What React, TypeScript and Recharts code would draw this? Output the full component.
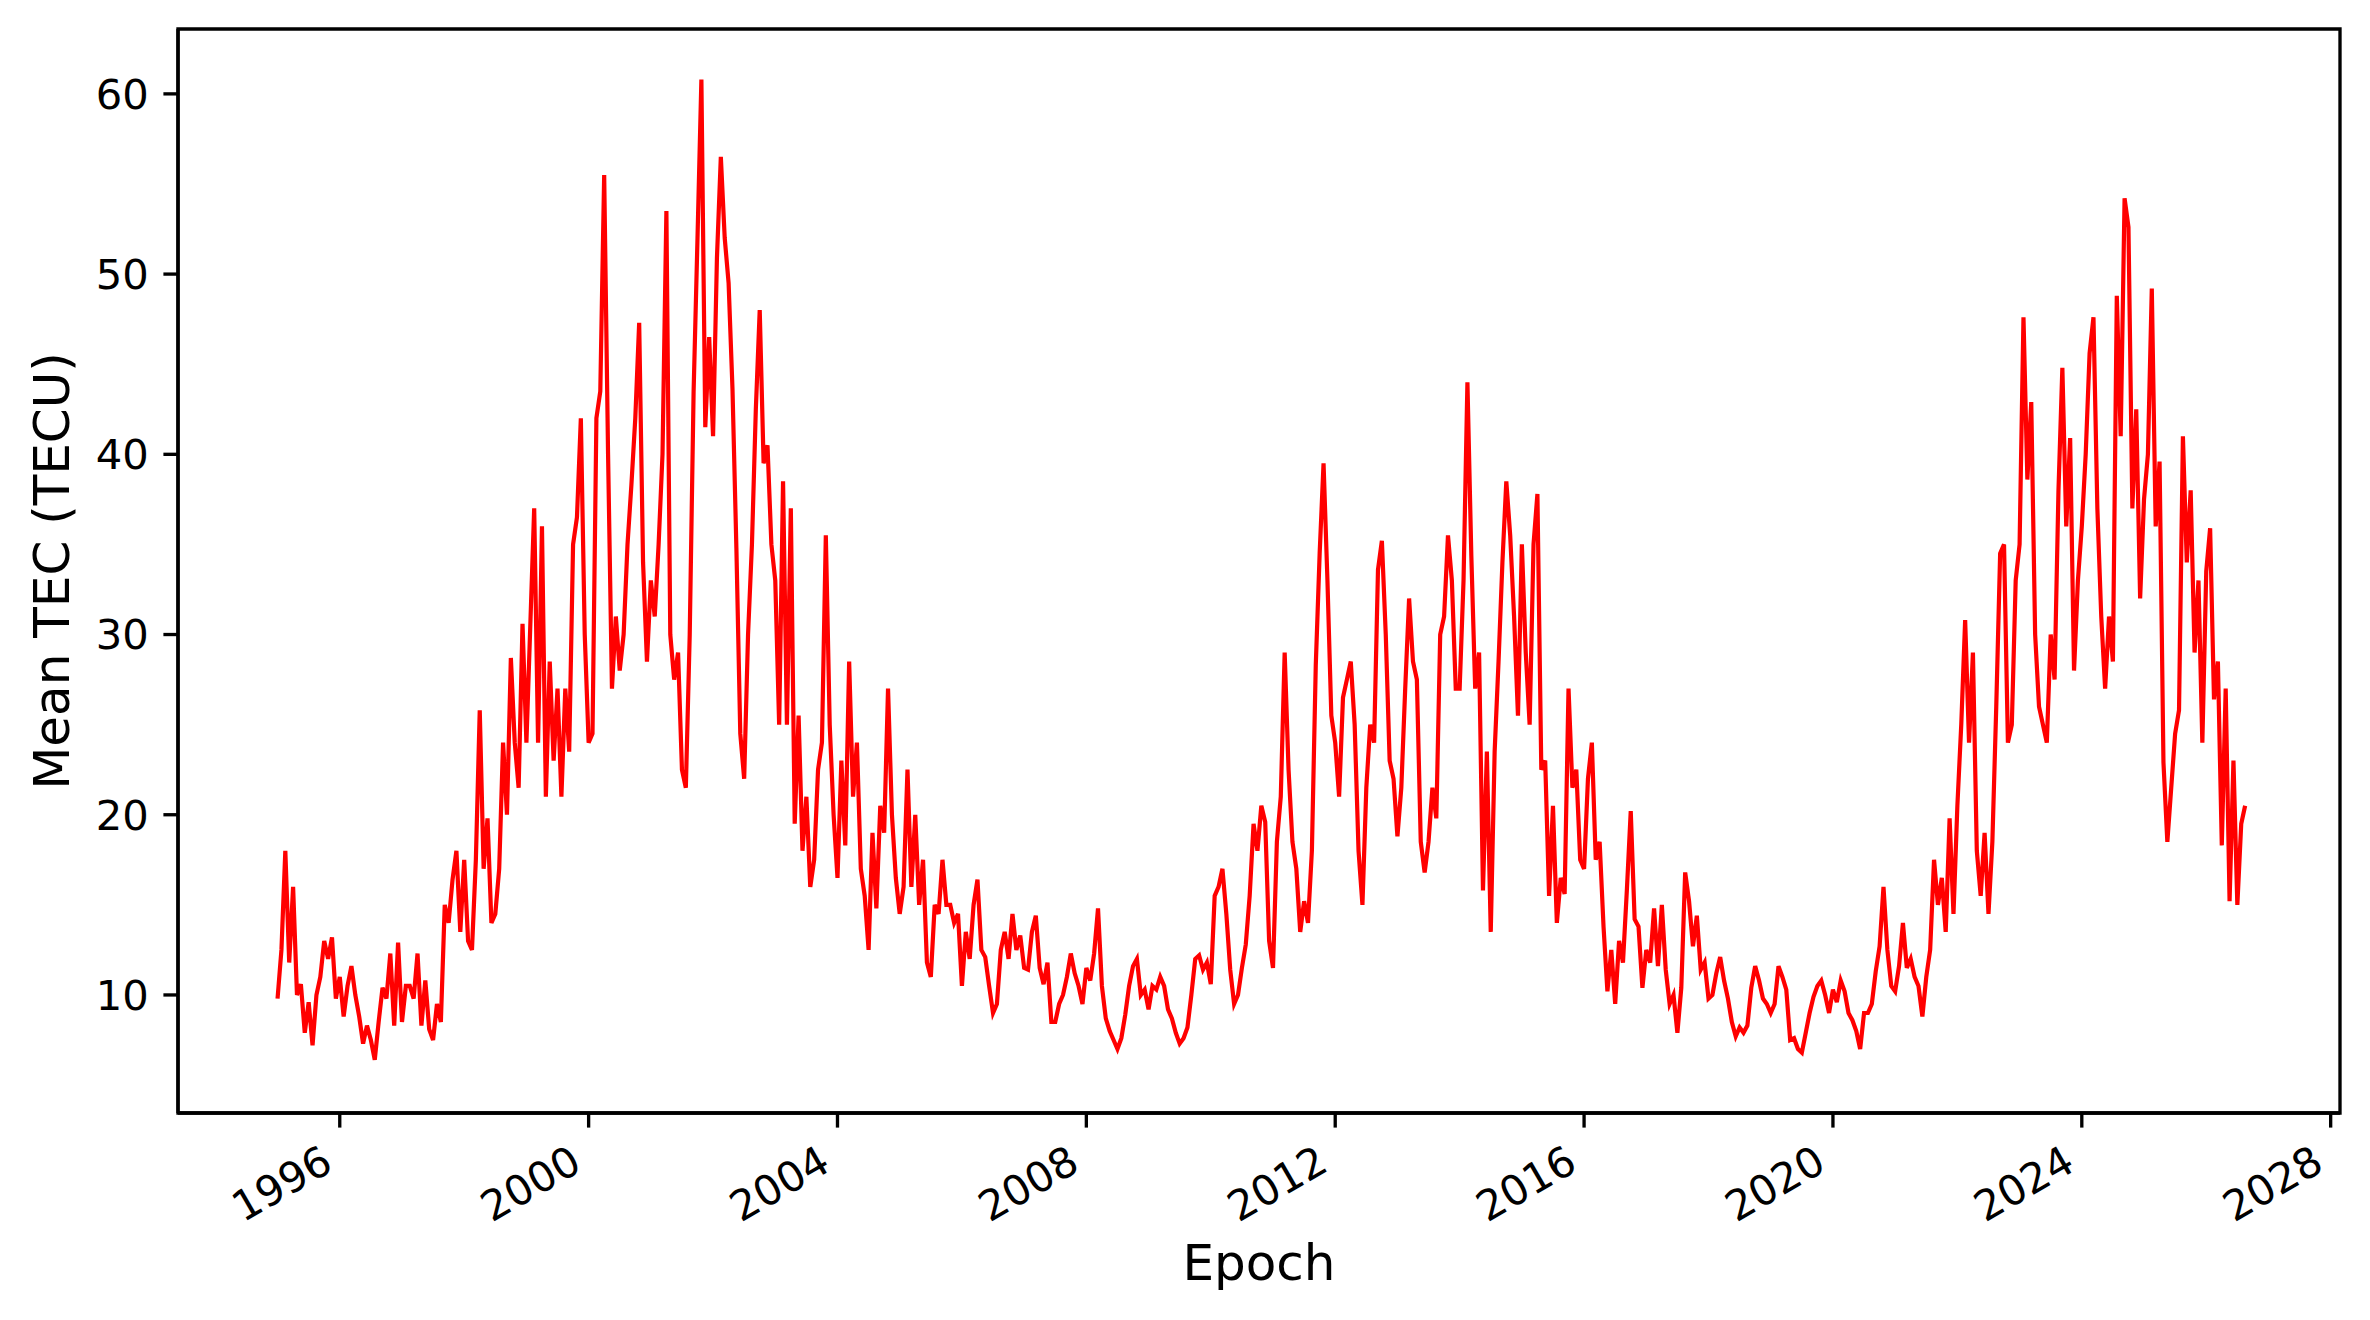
import { LineChart, Line, XAxis, YAxis, ReferenceArea } from "recharts";

const tec1995 = [9.8, 12.5, 18.0, 11.8, 16.0, 10.0, 10.6, 7.9, 9.6, 7.2, 10.0, 11.0, 13.0, 12.0, 13.2, 9.8];
const tec1996 = [11.0, 8.8, 10.5, 11.6, 10.0, 8.8, 7.3, 8.3, 7.5, 6.4, 8.5, 10.4, 9.8, 12.3, 8.3, 12.9];
const tec1997 = [8.5, 10.5, 10.5, 9.8, 12.3, 8.3, 10.8, 8.1, 7.5, 9.5, 8.5, 15.0, 14.0, 16.4, 18.0, 13.5];
const tec1998 = [17.5, 13.0, 12.5, 17.5, 25.8, 17.0, 19.8, 14.0, 14.5, 17.0, 24.0, 20.0, 28.7, 24.0, 21.5, 30.6];
const tec1999 = [24.0, 30.5, 37.0, 24.0, 36.0, 21.0, 28.5, 23.0, 27.0, 21.0, 27.0, 23.5, 35.0, 36.5, 42.0, 30.0];
const tec2000 = [24.0, 24.5, 42.0, 43.5, 55.5, 40.0, 27.0, 31.0, 28.0, 30.0, 35.0, 38.3, 42.0, 47.3, 34.0, 28.5];
const tec2001 = [33.0, 31.0, 35.0, 40.0, 53.5, 30.0, 27.5, 29.0, 22.5, 21.5, 30.0, 43.5, 52.0, 60.8, 41.5, 46.5];
const tec2002 = [41.0, 50.9, 56.5, 52.0, 49.5, 43.6, 34.8, 24.5, 22.0, 30.0, 35.0, 42.5, 48.0, 39.5, 40.5, 35.0];
const tec2003 = [33.0, 25.0, 38.5, 25.0, 37.0, 19.5, 25.5, 18.0, 21.0, 16.0, 17.5, 22.5, 24.0, 35.5, 25.0, 20.0];
const tec2004 = [16.5, 23.0, 18.3, 28.5, 21.0, 24.0, 17.0, 15.5, 12.5, 19.0, 14.8, 20.5, 19.0, 27.0, 20.0, 16.5];
const tec2005 = [14.5, 16.0, 22.5, 16.0, 20.0, 15.0, 17.5, 11.8, 11.0, 15.0, 14.5, 17.5, 15.0, 15.0, 14.0, 14.5];
const tec2006 = [10.5, 13.5, 12.0, 15.0, 16.4, 12.5, 12.1, 10.5, 9.0, 9.5, 12.5, 13.5, 12.0, 14.5, 12.5, 13.3];
const tec2007 = [11.5, 11.4, 13.5, 14.4, 11.5, 10.6, 11.8, 8.5, 8.5, 9.5, 10.0, 11.0, 12.3, 11.2, 10.5, 9.5];
const tec2008 = [11.5, 10.8, 12.3, 14.8, 10.5, 8.7, 8.0, 7.5, 7.0, 7.6, 8.9, 10.5, 11.6, 12.0, 10.0, 10.3];
const tec2009 = [9.2, 10.5, 10.3, 11.0, 10.5, 9.2, 8.7, 7.9, 7.3, 7.6, 8.2, 10.0, 12.0, 12.2, 11.4, 11.8];
const tec2010 = [10.6, 15.5, 16.0, 17.0, 14.5, 11.4, 9.5, 10.0, 11.5, 12.8, 15.5, 19.5, 18.0, 20.5, 19.6, 13.0];
const tec2011 = [11.5, 18.5, 21.0, 29.0, 22.5, 18.5, 17.0, 13.5, 15.2, 14.0, 18.0, 28.3, 34.5, 39.5, 33.0, 25.5];
const tec2012 = [24.0, 21.0, 26.5, 27.5, 28.5, 25.0, 18.0, 15.0, 21.5, 25.0, 24.0, 33.6, 35.2, 30.0, 23.0, 22.0];
const tec2013 = [18.8, 21.5, 27.0, 32.0, 28.5, 27.5, 18.5, 16.8, 18.5, 21.5, 19.8, 30.0, 31.0, 35.5, 33.0, 27.0];
const tec2014 = [27.0, 33.0, 44.0, 34.4, 27.0, 29.0, 15.8, 23.5, 13.5, 23.5, 28.5, 34.0, 38.5, 35.5, 31.0, 25.5];
const tec2015 = [35.0, 29.0, 25.0, 35.0, 37.8, 22.5, 23.0, 15.5, 20.5, 14.0, 16.5, 15.6, 27.0, 21.5, 22.5, 17.5];
const tec2016 = [17.0, 22.0, 24.0, 17.5, 18.5, 13.8, 10.2, 12.5, 9.5, 13.0, 11.8, 15.8, 20.2, 14.2, 13.8, 10.4];
const tec2017 = [12.5, 11.8, 14.8, 11.6, 15.0, 11.4, 9.5, 10.0, 7.9, 10.4, 16.8, 15.2, 12.7, 14.4, 11.4, 11.8];
const tec2018 = [9.8, 10.0, 11.2, 12.1, 10.8, 9.8, 8.5, 7.7, 8.2, 7.9, 8.3, 10.4, 11.6, 10.8, 9.8, 9.5];
const tec2019 = [9.0, 9.5, 11.6, 11.0, 10.3, 7.5, 7.6, 7.0, 6.8, 7.9, 9.0, 9.9, 10.5, 10.8, 10.0, 9.0];
const tec2020 = [10.3, 9.6, 10.8, 10.2, 9.0, 8.6, 8.0, 7.0, 9.0, 9.0, 9.5, 11.3, 12.7, 16.0, 12.5, 10.5];
const tec2021 = [10.2, 11.6, 14.0, 11.5, 12.0, 11.0, 10.5, 8.8, 11.0, 12.5, 17.5, 15.0, 16.5, 13.5, 19.8, 14.5];
const tec2022 = [20.5, 25.0, 30.8, 24.0, 29.0, 18.0, 15.5, 19.0, 14.5, 18.5, 26.0, 34.5, 35.0, 24.0, 25.0, 33.0];
const tec2023 = [35.0, 47.6, 38.6, 42.9, 30.0, 26.0, 25.0, 24.0, 30.0, 27.5, 38.0, 44.8, 36.0, 40.9, 28.0, 33.0];
const tec2024 = [36.0, 40.0, 45.6, 47.6, 37.0, 31.0, 27.0, 31.0, 28.5, 48.8, 41.0, 54.2, 52.6, 37.0, 42.5, 32.0];
const tec2025 = [37.5, 40.0, 49.2, 36.0, 39.6, 22.9, 18.5, 21.5, 24.5, 25.8, 41.0, 34.0, 38.0, 29.0, 33.0, 24.0];
const tec2026 = [33.5, 35.9, 26.4, 28.5, 18.3, 27.0, 15.2, 23.0, 15.0, 19.5, 20.5];

const years = [
  tec1995, tec1996, tec1997, tec1998, tec1999, tec2000, tec2001, tec2002,
  tec2003, tec2004, tec2005, tec2006, tec2007, tec2008, tec2009, tec2010,
  tec2011, tec2012, tec2013, tec2014, tec2015, tec2016, tec2017, tec2018,
  tec2019, tec2020, tec2021, tec2022, tec2023, tec2024, tec2025, tec2026,
];
const firstYear = 1995;
const samplesPerYear = 16;

const xTicks = [1996, 2000, 2004, 2008, 2012, 2016, 2020, 2024, 2028];
const yTicks = [10, 20, 30, 40, 50, 60];
const xDomain = [1993.4, 2028.15];
const yDomain = [3.45, 63.6];

const data = years.flatMap((vals, k) =>
  vals.map((tec, i) => ({ epoch: firstYear + k + i / samplesPerYear, tec }))
);

const FONT = "DejaVu Sans";
const TICK_FONT = 41.7;
const LABEL_FONT = 50;
const SPINE = 3.33;
const TICK_LEN = 14.6;

function EpochTick({ x, y, payload }: any) {
  const bx = x - 4.9;
  const by = y + 14.6 + 27.4;
  return (
    <text
      x={bx}
      y={by}
      transform={`rotate(-30, ${bx}, ${by})`}
      textAnchor="end"
      fontSize={TICK_FONT}
      fontFamily={FONT}
      fill="#000"
    >
      {payload.value}
    </text>
  );
}

function XTitle({ viewBox }: any) {
  const { x, y, width } = viewBox;
  return (
    <text x={x + width / 2} y={y + 167} textAnchor="middle" fontSize={LABEL_FONT} fontFamily={FONT} fill="#000">
      Epoch
    </text>
  );
}

function YTitle({ viewBox }: any) {
  const { x, y, height } = viewBox;
  const cx = x + 41;
  const cy = y + height / 2;
  return (
    <text
      x={cx}
      y={cy}
      transform={`rotate(-90, ${cx}, ${cy})`}
      textAnchor="middle"
      fontSize={LABEL_FONT}
      fontFamily={FONT}
      fill="#000"
    >
      Mean TEC (TECU)
    </text>
  );
}

export default function App() {
  return (
    <div style={{ position: "absolute", left: 0, top: 0, width: 2370, height: 1320, background: "#fff" }}>
      <LineChart width={2370} height={1320} data={data} margin={{ top: 29, right: 30, left: 28, bottom: 57 }}>
        <XAxis
          dataKey="epoch"
          type="number"
          domain={xDomain}
          allowDataOverflow
          ticks={xTicks}
          interval={0}
          height={150}
          tickSize={TICK_LEN}
          tickMargin={0}
          axisLine={{ stroke: "#000", strokeWidth: SPINE }}
          tickLine={{ stroke: "#000", strokeWidth: SPINE }}
          tick={<EpochTick />}
          label={<XTitle />}
        />
        <YAxis
          type="number"
          domain={yDomain}
          allowDataOverflow
          ticks={yTicks}
          interval={0}
          width={150}
          tickSize={TICK_LEN}
          tickMargin={TICK_LEN}
          axisLine={{ stroke: "#000", strokeWidth: SPINE }}
          tickLine={{ stroke: "#000", strokeWidth: SPINE }}
          tick={{ fill: "#000", fontSize: TICK_FONT, fontFamily: FONT }}
          label={<YTitle />}
        />
        <Line
          type="linear"
          dataKey="tec"
          stroke="#ff0000"
          strokeWidth={4.2}
          dot={false}
          activeDot={false}
          isAnimationActive={false}
        />
        <ReferenceArea
          x1={xDomain[0]}
          x2={xDomain[1]}
          y1={yDomain[0]}
          y2={yDomain[1]}
          fill="none"
          stroke="#000"
          strokeWidth={SPINE}
          ifOverflow="visible"
        />
      </LineChart>
    </div>
  );
}
